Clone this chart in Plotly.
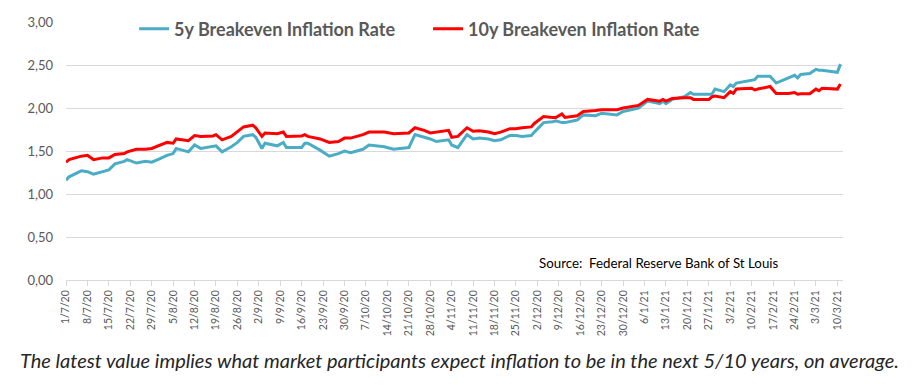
import plotly.graph_objects as go
from datetime import datetime, timedelta

dates = ["2020-07-01","2020-07-02","2020-07-06","2020-07-08","2020-07-10","2020-07-13","2020-07-15","2020-07-17","2020-07-20","2020-07-21",
         "2020-07-24","2020-07-27","2020-07-29","2020-07-31","2020-08-03","2020-08-05","2020-08-06","2020-08-10","2020-08-12","2020-08-14",
         "2020-08-18","2020-08-19","2020-08-21","2020-08-24","2020-08-26","2020-08-28","2020-08-31","2020-09-01","2020-09-03","2020-09-04",
         "2020-09-08","2020-09-10","2020-09-11","2020-09-16","2020-09-17","2020-09-18","2020-09-22","2020-09-25","2020-09-28","2020-09-30",
         "2020-10-02","2020-10-06","2020-10-08","2020-10-13","2020-10-16","2020-10-21","2020-10-23","2020-10-26","2020-10-28","2020-10-30",
         "2020-11-02","2020-11-03","2020-11-04","2020-11-06","2020-11-09","2020-11-11","2020-11-13","2020-11-16","2020-11-18","2020-11-20",
         "2020-11-23","2020-11-25","2020-11-27","2020-11-30","2020-12-01","2020-12-03","2020-12-04","2020-12-07","2020-12-08","2020-12-10",
         "2020-12-11","2020-12-15","2020-12-17","2020-12-21","2020-12-23","2020-12-28","2020-12-30","2021-01-04","2021-01-05","2021-01-06",
         "2021-01-07","2021-01-11","2021-01-12","2021-01-13","2021-01-15","2021-01-19","2021-01-21","2021-01-22","2021-01-27","2021-01-28",
         "2021-01-29","2021-02-01","2021-02-03","2021-02-04","2021-02-05","2021-02-10","2021-02-11","2021-02-12","2021-02-16","2021-02-18",
         "2021-02-22","2021-02-24","2021-02-25","2021-02-26","2021-03-01","2021-03-03","2021-03-04","2021-03-05","2021-03-10","2021-03-11"]

breakeven_5y = [1.16,1.20,1.27,1.26,1.23,1.26,1.28,1.35,1.38,1.40,
                1.36,1.38,1.37,1.40,1.45,1.47,1.53,1.49,1.57,1.53,
                1.55,1.56,1.49,1.55,1.60,1.67,1.69,1.66,1.53,1.59,
                1.56,1.60,1.54,1.54,1.59,1.59,1.51,1.44,1.47,1.50,
                1.48,1.52,1.57,1.55,1.52,1.54,1.69,1.66,1.64,1.61,
                1.62,1.63,1.57,1.54,1.69,1.64,1.65,1.64,1.62,1.63,
                1.68,1.68,1.67,1.68,1.72,1.79,1.83,1.84,1.85,1.83,
                1.83,1.86,1.92,1.91,1.94,1.92,1.96,2.00,2.03,2.06,
                2.08,2.05,2.08,2.05,2.10,2.13,2.18,2.16,2.16,2.16,
                2.22,2.19,2.27,2.25,2.29,2.32,2.33,2.37,2.37,2.29,
                2.35,2.38,2.35,2.39,2.40,2.45,2.44,2.44,2.415,2.51]

breakeven_10y = [1.37,1.40,1.44,1.45,1.40,1.42,1.42,1.46,1.47,1.49,
                 1.52,1.52,1.53,1.56,1.60,1.59,1.64,1.62,1.68,1.67,
                 1.675,1.69,1.63,1.67,1.73,1.78,1.80,1.77,1.67,1.71,
                 1.70,1.72,1.67,1.675,1.69,1.67,1.64,1.60,1.61,1.65,
                 1.65,1.69,1.72,1.72,1.70,1.71,1.77,1.74,1.71,1.72,
                 1.73,1.74,1.66,1.67,1.77,1.73,1.735,1.72,1.70,1.72,
                 1.76,1.76,1.77,1.78,1.82,1.87,1.90,1.89,1.89,1.93,
                 1.89,1.91,1.96,1.97,1.98,1.98,2.00,2.03,2.05,2.08,
                 2.10,2.08,2.10,2.08,2.11,2.12,2.12,2.10,2.10,2.13,
                 2.14,2.12,2.19,2.17,2.22,2.23,2.21,2.22,2.25,2.17,
                 2.17,2.18,2.16,2.165,2.165,2.22,2.20,2.23,2.22,2.28]

x_tick_labels = ["1/7/20","8/7/20","15/7/20","22/7/20","29/7/20","5/8/20","12/8/20","19/8/20","26/8/20",
                 "2/9/20","9/9/20","16/9/20","23/9/20","30/9/20","7/10/20","14/10/20","21/10/20","28/10/20",
                 "4/11/20","11/11/20","18/11/20","25/11/20","2/12/20","9/12/20","16/12/20","23/12/20","30/12/20",
                 "6/1/21","13/1/21","20/1/21","27/1/21","3/2/21","10/2/21","17/2/21","24/2/21","3/3/21","10/3/21"]

series_names = ["5y Breakeven Inflation Rate", "10y Breakeven Inflation Rate"]
source_text = "Source:  Federal Reserve Bank of St Louis"
caption_text = "The latest value implies what market participants expect inflation to be in the next 5/10 years, on average."

tick_vals = [datetime.strptime(t, "%d/%m/%y").strftime("%Y-%m-%d") for t in x_tick_labels]
x_end = (datetime.strptime(dates[-1], "%Y-%m-%d") + timedelta(hours=20)).strftime("%Y-%m-%d %H:%M")

FONT = "Lato"
GRAY = "#595959"
GRID = "#d9d9d9"

fig = go.Figure()
fig.add_trace(go.Scatter(x=dates, y=breakeven_5y, mode="lines", name=series_names[0],
                         line=dict(color="#4bacc6", width=3)))
fig.add_trace(go.Scatter(x=dates, y=breakeven_10y, mode="lines", name=series_names[1],
                         line=dict(color="#ff0000", width=3)))

# the page body adds an 8px margin, so the figure is 8px smaller than the window
fig.update_layout(
    width=907, height=377,
    margin=dict(l=58, r=72, t=14, b=105, autoexpand=False),
    paper_bgcolor="white", plot_bgcolor="white",
    separators=",.",
    font=dict(family=FONT, color=GRAY),
    showlegend=True,
    legend=dict(orientation="h", xref="container", yref="container", x=0.139, xanchor="left",
                y=0.944, yanchor="middle",
                bgcolor="rgba(0,0,0,0)", font=dict(family=FONT, size=18, color=GRAY, weight="bold"),
                entrywidth=249, entrywidthmode="pixels", tracegroupgap=0),
    xaxis=dict(type="date", range=[dates[0], x_end], tickmode="array", tickvals=tick_vals,
               ticktext=x_tick_labels, tickangle=-90, tickfont=dict(family=FONT, size=10.5, color=GRAY),
               showgrid=False, showline=True, linecolor=GRID, linewidth=1, automargin=False,
               ticks="outside", ticklen=5, tickcolor=GRID, zeroline=False),
    yaxis=dict(range=[0, 3], dtick=0.5, tickformat=".2f", showgrid=True, gridcolor=GRID, gridwidth=1,
               zeroline=False, showline=False, tickfont=dict(family=FONT, size=13, color=GRAY),
               ticklabelstandoff=12, automargin=False),
    shapes=[dict(type="rect", xref="paper", yref="paper", x0=0.052, x1=1.01, y0=0.985, y1=1.02,
                 fillcolor="white", line=dict(width=0), layer="between")],
    annotations=[
        dict(text=source_text, xref="paper", yref="paper", x=0.762, y=0.066, xanchor="center", yanchor="middle",
             showarrow=False, font=dict(family=FONT, size=13.3, color="#000000")),
        dict(text="<i>" + caption_text + "</i>", xref="paper", yref="paper", x=-0.0618, y=-0.31,
             xanchor="left", yanchor="middle", showarrow=False,
             font=dict(family=FONT, size=20, color="#262626")),
    ],
)

fig.write_html("out.html")
